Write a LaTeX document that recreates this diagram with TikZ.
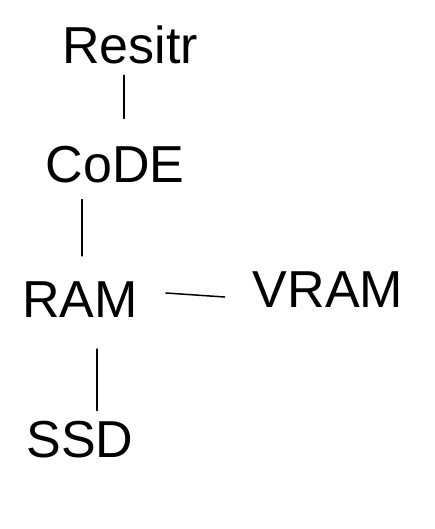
\documentclass[tikz,border=0pt]{standalone}
\usepackage{fontspec}
\setmainfont{Liberation Sans}
\begin{document}
\begin{tikzpicture}[x=1pt,y=1pt,
  word/.style={inner sep=0pt, font=\fontsize{52}{60}\selectfont},
  link/.style={line width=1.5pt, line cap=round}]
\useasboundingbox (0,0) rectangle (435,-529);
\node[word] (resitr) at (130,-45) {Resitr};
\node[word] (code) at (115,-165) {CoDE};
\node[word] (ram) at (80,-300) {RAM};
\node[word] (vram) at (328,-290) {VRAM};
\node[word] (ssd) at (80,-440) {SSD};
\draw[link] ([xshift=-6pt,yshift=-11pt]resitr.south) -- ([xshift=9pt,yshift=28pt]code.north);
\draw[link] ([xshift=-33pt,yshift=-16pt]code.south) -- ([xshift=2pt,yshift=26pt]ram.north);
\draw[link] ([xshift=28pt,yshift=7pt]ram.east) -- ([xshift=-28pt,yshift=-7pt]vram.west);
\draw[link] ([xshift=17pt,yshift=-31pt]ram.south) -- ([xshift=17pt,yshift=11pt]ssd.north);
\end{tikzpicture}
\end{document}
